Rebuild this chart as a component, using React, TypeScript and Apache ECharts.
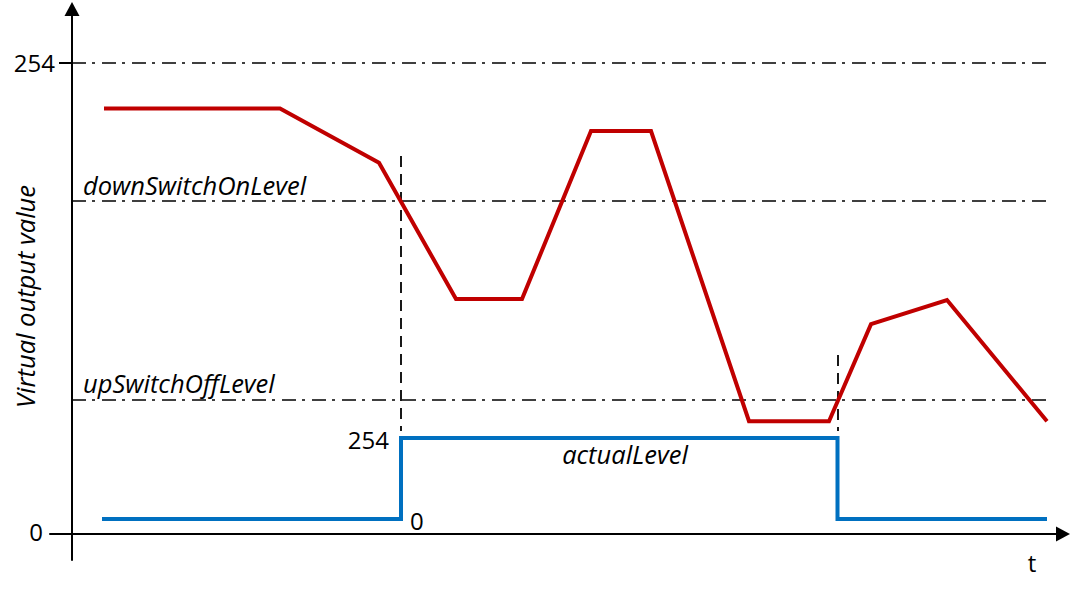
import React, { useEffect, useRef } from "react";
import * as echarts from "echarts";

// time axis (arbitrary units, origin at the value axis)
const T_RED = [32, 208, 307, 384, 450, 519, 579, 677, 757, 799, 875, 975];
// virtual output value (0..254)
const V_RED = [229.5, 229.5, 200.2, 126.7, 126.7, 217.3, 217.3, 60.8, 60.8, 113.2, 126.2, 60.8];

const T_ACTUAL = [30, 329, 329, 765.5, 765.5, 975];
const V_ACTUAL = [0, 0, 254, 254, 0, 0];

const LEVEL_NAMES = ["", "downSwitchOnLevel", "upSwitchOffLevel"];
const LEVEL_VALUES = [254, 179.6, 72.6];
const LEVEL_END_T = 978;

const SWITCH_T = [329, 765.5];
const SWITCH_FROM = [203.8, 96.5];
const SWITCH_TO = [55.5, 55.5];

const Y_TICKS = [0, 254];
const ACTUAL_LABEL_T = 553;

const FONT = "Open Sans";
const FS = 24;
const FS_IT = 25.5;

export default function App() {
  const ref = useRef<HTMLDivElement>(null);
  useEffect(() => {
    if (!ref.current) return;
    const chart = echarts.init(ref.current, null, { renderer: "svg" });

    const levelLines = LEVEL_VALUES.map((v, i) => [
      {
        coord: [0, v],
        label: {
          show: LEVEL_NAMES[i] !== "",
          formatter: LEVEL_NAMES[i],
          position: "insideStartTop",
          distance: [11, 3],
          fontFamily: FONT,
          fontStyle: "italic",
          fontSize: FS_IT,
          color: "#000",
        },
        lineStyle: { type: [14, 6, 3, 7], color: "#000", width: 1.6 },
      },
      { coord: [LEVEL_END_T, v] },
    ]);
    const switchLines = SWITCH_T.map((t, i) => [
      {
        coord: [t, SWITCH_FROM[i]],
        label: { show: false },
        lineStyle: { type: [11, 7], color: "#000", width: 1.8 },
      },
      { coord: [t, SWITCH_TO[i]] },
    ]);

    const actualData = T_ACTUAL.map((t, i) => {
      const item: any = { value: [t, V_ACTUAL[i]] };
      if (i === 2) {
        item.label = {
          show: true,
          formatter: String(V_ACTUAL[i]),
          position: "left",
          distance: 12,
          offset: [0, 2],
        };
      }
      if (i === 1) {
        item.label = {
          show: true,
          formatter: String(V_ACTUAL[i]),
          position: "right",
          distance: 9,
          offset: [0, 2],
        };
      }
      return item;
    });

    chart.setOption({
      animation: false,
      textStyle: { fontFamily: FONT },
      grid: { left: 50, right: 9, top: 9, bottom: 35, containLabel: false, outerBoundsMode: "none" },
      xAxis: {
        type: "value",
        min: -22,
        max: 991,
        name: "t",
        nameLocation: "end",
        nameGap: -31,
        nameTextStyle: {
          fontFamily: FONT,
          fontSize: FS,
          color: "#000",
          align: "center",
          verticalAlign: "top",
          padding: [16, 0, 0, 0],
        },
        axisLine: {
          onZero: true,
          onZeroAxisIndex: 0,
          symbol: ["none", "triangle"],
          symbolSize: [15, 14],
          lineStyle: { color: "#000", width: 2 },
        },
        axisTick: { show: false },
        axisLabel: { show: false },
        splitLine: { show: false },
      },
      yAxis: [
        {
          type: "value",
          min: -14.02,
          max: 283.12,
          name: "Virtual output value",
          nameLocation: "middle",
          nameRotate: 90,
          nameGap: 12,
          nameMoveOverlap: false,
          nameTextStyle: {
            fontFamily: FONT,
            fontStyle: "italic",
            fontSize: FS_IT,
            color: "#000",
            padding: [0, 24, 0, 0],
          },
          axisLine: {
            onZero: true,
            symbol: ["none", "triangle"],
            symbolSize: [15, 14],
            lineStyle: { color: "#000", width: 2 },
          },
          axisTick: {
            show: true,
            length: 13,
            customValues: [254],
            lineStyle: { color: "#000", width: 2 },
          },
          axisLabel: {
            show: true,
            customValues: Y_TICKS,
            margin: -5,
            fontFamily: FONT,
            fontSize: FS,
            color: "#000",
            formatter: (v: number) => (v === 0 ? "{z|0}" : String(v)),
            rich: {
              z: {
                fontFamily: FONT,
                fontSize: FS,
                color: "#000",
                padding: [0, 12, 6, 0],
              },
            },
          },
          splitLine: { show: false },
        },
        {
          type: "value",
          show: false,
          min: -128.57,
          max: 1599.26,
          splitLine: { show: false },
        },
      ],
      series: [
        {
          type: "line",
          name: "virtual output value",
          yAxisIndex: 0,
          data: T_RED.map((t, i) => [t, V_RED[i]]),
          showSymbol: false,
          symbol: "none",
          lineStyle: { color: "#C00000", width: 4, join: "miter" },
          z: 3,
          markLine: {
            silent: true,
            symbol: "none",
            animation: false,
            label: { show: false },
            data: [...levelLines, ...switchLines],
            z: 1,
          },
        },
        {
          type: "line",
          name: "actualLevel",
          yAxisIndex: 1,
          data: actualData,
          showSymbol: true,
          symbol: "circle",
          symbolSize: 0,
          lineStyle: { color: "#0070C0", width: 4, join: "miter" },
          label: { fontFamily: FONT, fontSize: FS, color: "#000" },
          z: 4,
          markPoint: {
            symbol: "circle",
            symbolSize: 0,
            silent: true,
            label: {
              show: true,
              position: "bottom",
              distance: 3,
              formatter: "actualLevel",
              fontFamily: FONT,
              fontStyle: "italic",
              fontSize: FS_IT,
              color: "#000",
            },
            data: [{ coord: [ACTUAL_LABEL_T, 254] }],
          },
        },
      ],
    });
    return () => chart.dispose();
  }, []);
  return (
    <div
      ref={ref}
      style={{ position: "fixed", left: 0, top: 0, width: 1072, height: 595, background: "#fff" }}
    />
  );
}
